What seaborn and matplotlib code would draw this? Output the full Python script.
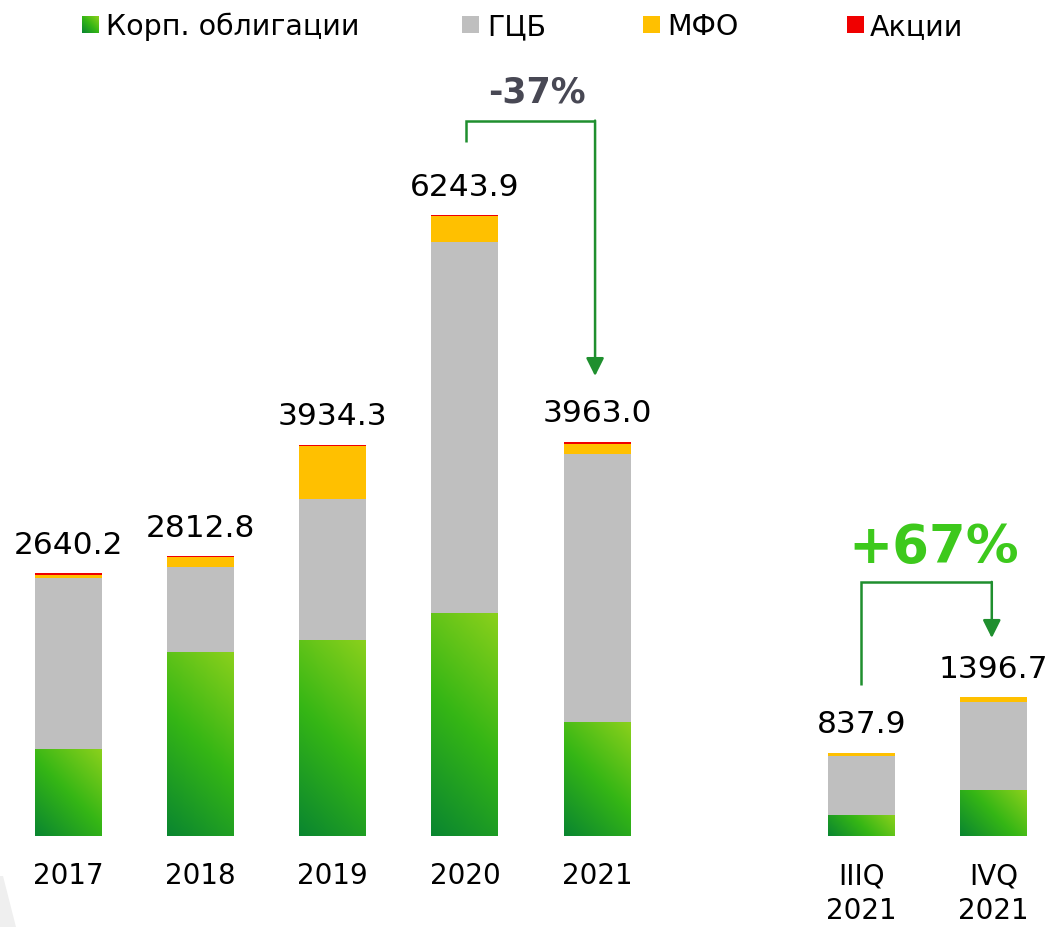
import matplotlib
matplotlib.use("Agg")
import matplotlib.pyplot as plt
from matplotlib.colors import LinearSegmentedColormap
from matplotlib.patches import Rectangle, Polygon
import numpy as np
import pandas as pd
import seaborn as sns

# Data
periods = ["2017", "2018", "2019", "2020", "2021", "IIIQ\n2021", "IVQ\n2021"]
positions = [0, 1, 2, 3, 4, 6, 7]
corp_bonds = [865, 1850, 1961, 2242, 1146, 211, 455]
gov_bonds = [1730, 855, 1428, 3730, 2695, 593, 895]
mfo = [25, 100, 535, 261, 102, 34, 47]
shares = [20, 8, 10, 11, 20, 0, 0]
totals = [2640.2, 2812.8, 3934.3, 6243.9, 3963.0, 837.9, 1396.7]
series_names = ["Корп. облигации", "ГЦБ", "МФО", "Акции"]

GREEN = "#35b615"
GRAY = "#bfbfbf"
YELLOW = "#ffc000"
RED = "#f00000"
ARROW = "#1f8f2e"
green_cmap = LinearSegmentedColormap.from_list("corp", ["#0a8630", "#35b615", "#8ad01c"])

df = pd.DataFrame({"pos": positions, "corp": corp_bonds, "gcb": gov_bonds,
                   "mfo": mfo, "shares": shares})
df["c1"] = df["corp"]
df["c2"] = df["c1"] + df["gcb"]
df["c3"] = df["c2"] + df["mfo"]
df["c4"] = df["c3"] + df["shares"]

sns.set_theme(style="white")
plt.rcParams["font.family"] = ["DejaVu Sans"]

fig = plt.figure(figsize=(10.49, 9.27), dpi=100)
ax = fig.add_axes([0, 91 / 927, 1, 786 / 927])
XLIM = (-0.518, 7.42)
YLIM = (0, 7903)

# stacked bars: draw cumulative totals back to front
for col, color in [("c4", RED), ("c3", YELLOW), ("c2", GRAY), ("c1", GREEN)]:
    sns.barplot(data=df, x="pos", y=col, native_scale=True, orient="x",
                color=color, saturation=1, width=0.507, errorbar=None,
                linewidth=0, edgecolor="none", ax=ax)

# gradient fill for the green segments (45 degrees in screen space)
px_per_x = 1049 / (XLIM[1] - XLIM[0])
px_per_y = 786 / (YLIM[1] - YLIM[0])
for bar in ax.containers[-1]:
    x0, y0, w, h = bar.get_x(), bar.get_y(), bar.get_width(), bar.get_height()
    wp, hp = w * px_per_x, h * px_per_y
    u = np.linspace(0, wp, 64)
    v = np.linspace(0, hp, 64)
    grad = np.add.outer(v, u) / (wp + hp)
    ax.imshow(grad, extent=[x0, x0 + w, y0, y0 + h], origin="lower",
              cmap=green_cmap, aspect="auto", interpolation="bilinear",
              vmin=0, vmax=1, zorder=bar.get_zorder() + 0.01)

ax.set_xlim(*XLIM)
ax.set_ylim(*YLIM)
ax.set_xticks(positions, periods)
ax.set_yticks([])
ax.tick_params(axis="x", length=0, pad=19, labelsize=20, labelcolor="black")
for lbl in ax.get_xticklabels():
    lbl.set_linespacing(1.3)
ax.set_xlabel("")
ax.set_ylabel("")
ax.grid(False)
sns.despine(ax=ax, left=True, bottom=True)

# value labels
for p, top, t in zip(positions, df["c4"], totals):
    ax.annotate(f"{t:.1f}", (p, top), xytext=(0, 14), textcoords="offset points",
                ha="center", va="baseline", fontsize=22.5, color="black")

# -37% bracket
ax.plot([3.008, 3.008, 3.985], [6981, 7193, 7193], color=ARROW, lw=1.8,
        solid_joinstyle="miter", solid_capstyle="butt")
ax.annotate("", xy=(3.985, 4625), xytext=(3.985, 7193),
            arrowprops=dict(arrowstyle="-|>", color=ARROW, lw=1.8,
                            mutation_scale=27, shrinkA=0, shrinkB=0))
ax.text(3.545, 7375, "-37%", ha="center", va="baseline", fontsize=25,
        fontweight="bold", color="#484854")

# +67% bracket
ax.plot([6.0, 6.0, 6.987], [1518, 2555, 2555], color=ARROW, lw=1.8,
        solid_joinstyle="miter", solid_capstyle="butt")
ax.annotate("", xy=(6.987, 1991), xytext=(6.987, 2555),
            arrowprops=dict(arrowstyle="-|>", color=ARROW, lw=1.8,
                            mutation_scale=27, shrinkA=0, shrinkB=0))
ax.text(6.55, 2745, "+67%", ha="center", va="baseline", fontsize=38,
        fontweight="bold", color="#3dc91c")

# overlay in pixel coordinates for legend and background shape
ov = fig.add_axes([0, 0, 1, 1])
ov.set_xlim(0, 1049)
ov.set_ylim(927, 0)
ov.axis("off")
ov.add_patch(Polygon([(0, 876), (0, 927), (16, 927), (3, 876)], closed=True,
                     facecolor="#efefef", edgecolor="none"))

legend_grad = np.add.outer(np.linspace(0, 1, 32), np.linspace(0, 1, 32)) / 2
legend_x = [(82, 106), (462, 487), (643, 667), (847, 870)]
legend_colors = [None, GRAY, YELLOW, RED]
for (sx, tx), name, color in zip(legend_x, series_names, legend_colors):
    if color is None:
        ov.imshow(legend_grad, extent=[sx, sx + 17, 33, 16], origin="lower",
                  cmap=green_cmap, aspect="auto", interpolation="bilinear")
    else:
        ov.add_patch(Rectangle((sx, 16), 17, 17, facecolor=color, edgecolor="none"))
    ov.text(tx, 35, name, ha="left", va="baseline", fontsize=20.5, color="black")
ov.set_xlim(0, 1049)
ov.set_ylim(927, 0)

fig.savefig("out.png", dpi=100)
